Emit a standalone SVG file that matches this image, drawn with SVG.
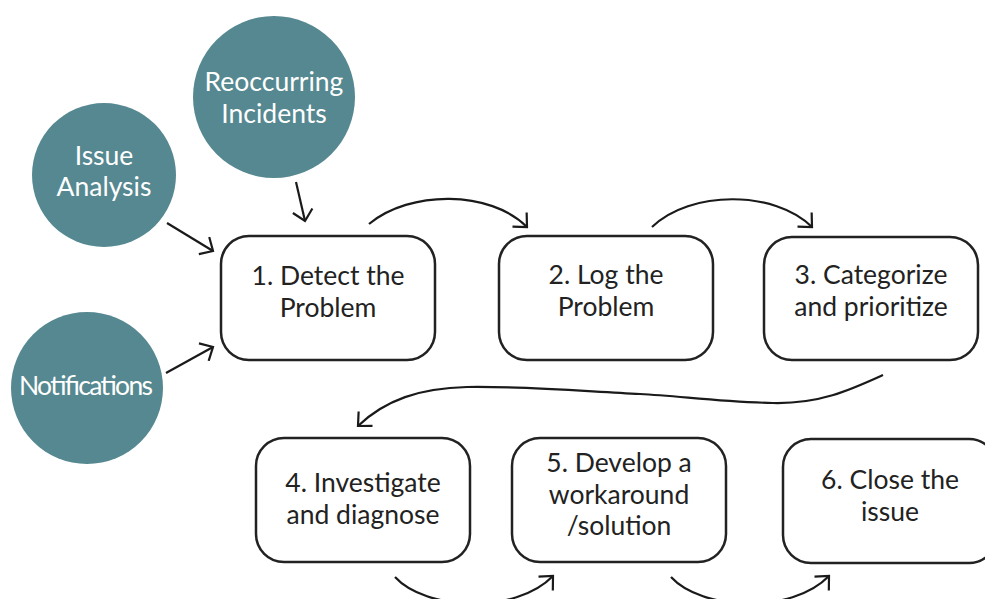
<svg xmlns="http://www.w3.org/2000/svg" width="985" height="599" viewBox="0 0 985 599">
<style>
.box{fill:#fff;stroke:#222;stroke-width:2.5}
.circ{fill:#558890}
.t{font-family:Lato,"Liberation Sans",sans-serif;font-size:26.5px;fill:#222;text-anchor:middle}
.w{fill:#fff}
.c{fill:none;stroke:#1a1a1a;stroke-width:2.2;marker-end:url(#ah)}
</style>
<defs>
<marker id="ah" markerUnits="userSpaceOnUse" viewBox="0 0 14 22" refX="12" refY="11" markerWidth="14" markerHeight="22" orient="auto">
<path d="M1.5,1 L12,11 L1.5,21" fill="none" stroke="#1a1a1a" stroke-width="2.2"/>
</marker>
</defs>
<rect width="985" height="599" fill="#fff"/>
<g id="connectors">
<path class="c" d="M296,182 L305,221"/>
<path class="c" d="M167,223 L213,251"/>
<path class="c" d="M166,373 L213,347"/>
<path class="c" d="M369,224 C410,190 490,190 527,227"/>
<path class="c" d="M652,227 C690,190 775,190 812,227"/>
<path class="c" d="M883,375 C850,390 820,404 773,403 C720,402 680,396 640,394 C580,391 520,386 467,387 C420,388 385,400 358,426"/>
<path class="c" d="M395,577 C425,610 515,615 553,576"/>
<path class="c" d="M671,577 C701,610 791,615 829,576"/>
</g>
<g id="issue-analysis">
<circle class="circ" cx="104" cy="175" r="72"/>
<text class="t w" x="104" y="165">Issue</text>
<text class="t w" x="104" y="196">Analysis</text>
</g>
<g id="reoccurring-incidents">
<circle class="circ" cx="274" cy="97" r="81"/>
<text class="t w" x="274" y="91">Reoccurring</text>
<text class="t w" x="274" y="123">Incidents</text>
</g>
<g id="notifications">
<circle class="circ" cx="87" cy="388" r="76"/>
<text class="t w" x="86" y="395" textLength="134" lengthAdjust="spacing">Notifications</text>
</g>
<g id="step1">
<rect class="box" x="221" y="236" width="214" height="124" rx="28"/>
<text class="t" x="328" y="285">1. Detect the</text>
<text class="t" x="328" y="317">Problem</text>
</g>
<g id="step2">
<rect class="box" x="499" y="236" width="214" height="124" rx="28"/>
<text class="t" x="606" y="284">2. Log the</text>
<text class="t" x="606" y="316">Problem</text>
</g>
<g id="step3">
<rect class="box" x="764" y="237" width="214" height="123" rx="28"/>
<text class="t" x="871" y="284">3. Categorize</text>
<text class="t" x="871" y="316">and prioritize</text>
</g>
<g id="step4">
<rect class="box" x="256" y="438" width="214" height="124" rx="28"/>
<text class="t" x="363" y="492">4. Investigate</text>
<text class="t" x="363" y="524">and diagnose</text>
</g>
<g id="step5">
<rect class="box" x="512" y="438" width="214" height="124" rx="28"/>
<text class="t" x="619" y="472">5. Develop a</text>
<text class="t" x="619" y="504">workaround</text>
<text class="t" x="619" y="535">/solution</text>
</g>
<g id="step6">
<rect class="box" x="783" y="439" width="214" height="124" rx="28"/>
<text class="t" x="890" y="489">6. Close the</text>
<text class="t" x="890" y="521">issue</text>
</g>
</svg>
